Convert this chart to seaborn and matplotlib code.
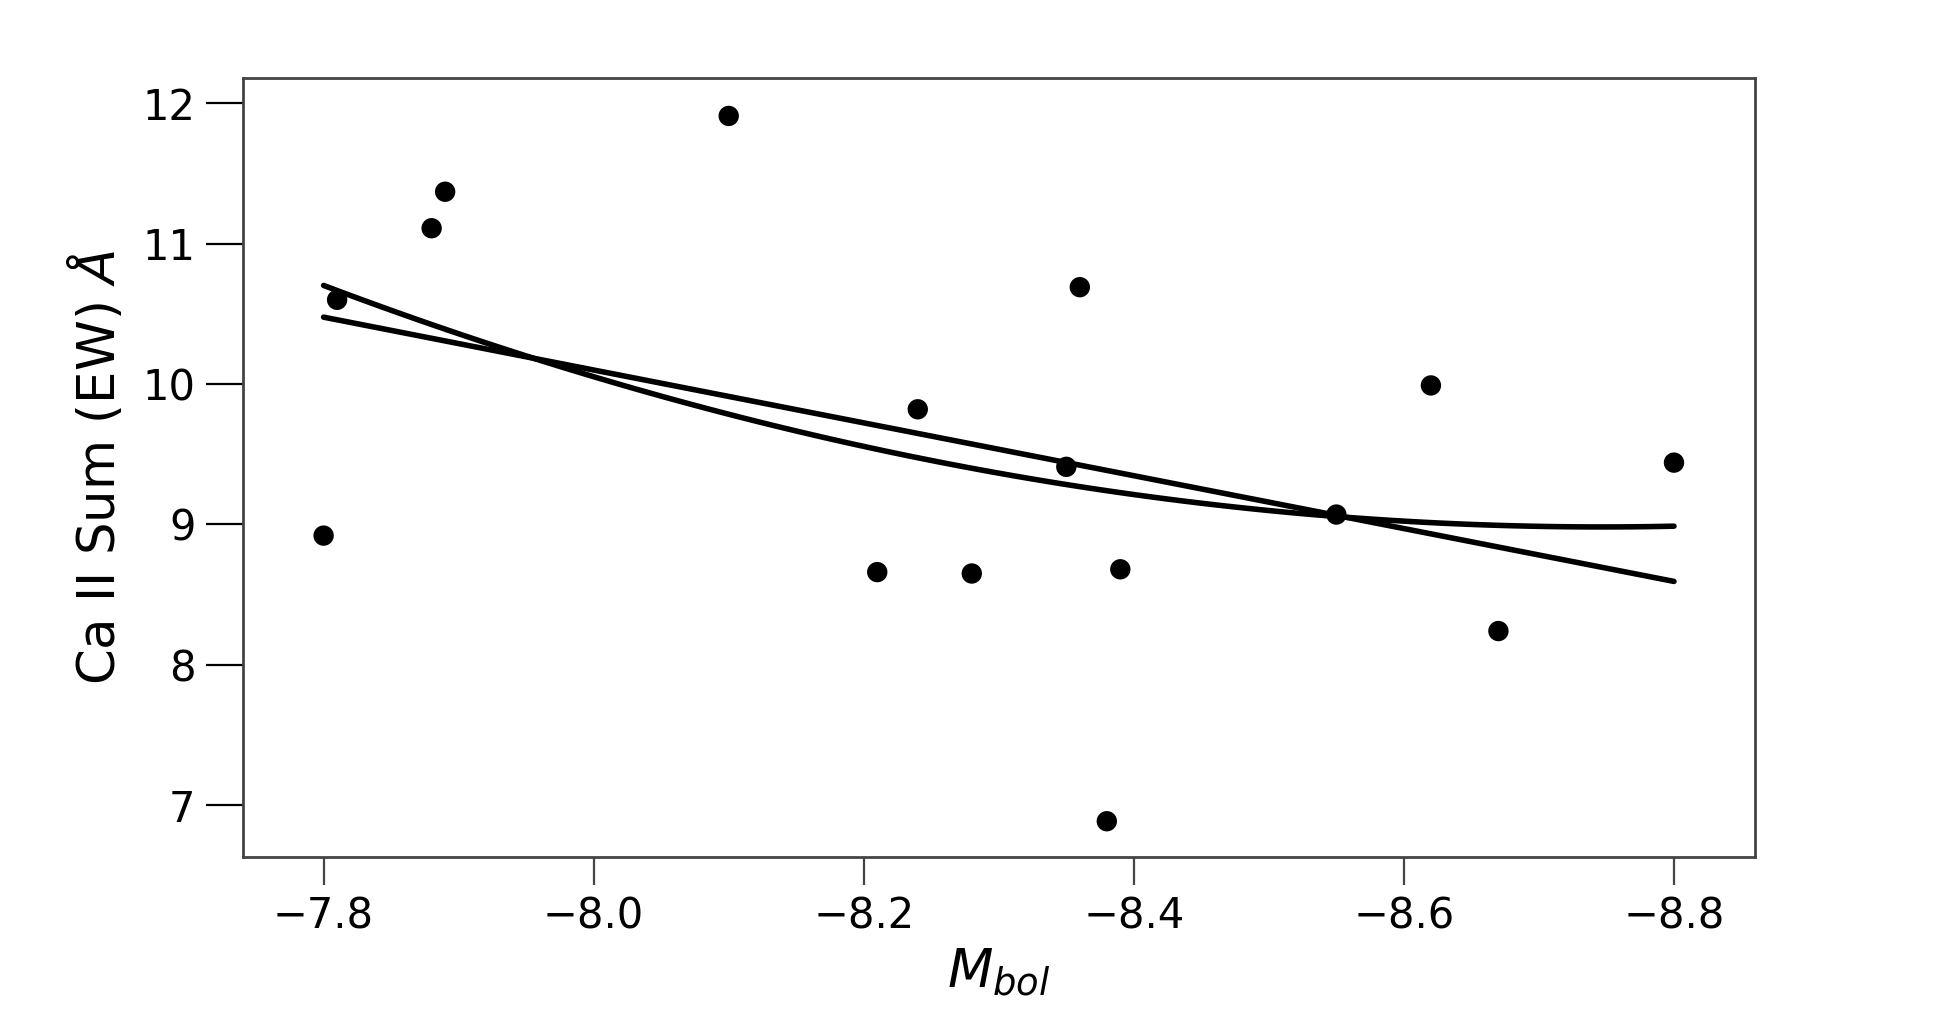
import seaborn as sns
import matplotlib.pyplot as plt
import pandas as pd

# values
m_bol = [-7.80, -7.81, -7.88, -7.89, -8.10, -8.21, -8.24, -8.28,
         -8.35, -8.36, -8.38, -8.39, -8.55, -8.62, -8.67, -8.80]
ca_sum = [8.92, 10.60, 11.11, 11.37, 11.91, 8.66, 9.82, 8.65,
          9.41, 10.69, 6.885, 8.68, 9.07, 9.99, 8.24, 9.44]

x_ticks = [-7.8, -8.0, -8.2, -8.4, -8.6, -8.8]
y_ticks = [7, 8, 9, 10, 11, 12]

df = pd.DataFrame({"mbol": m_bol, "ca": ca_sum})

sns.set_theme(style="ticks")
plt.rcParams['font.family'] = ['DejaVu Sans']
plt.rcParams['text.color'] = 'black'
plt.rcParams['axes.labelcolor'] = 'black'
plt.rcParams['xtick.labelcolor'] = 'black'
plt.rcParams['ytick.labelcolor'] = 'black'

fig = plt.figure(figsize=(19.5, 10.11), dpi=100)
ax = fig.add_axes([0.1244, 0.1523, 0.7756, 0.7705])

sns.scatterplot(x="mbol", y="ca", data=df, ax=ax, color="black", s=215,
                edgecolor="none", zorder=3)
# linear and quadratic fits
sns.regplot(x="mbol", y="ca", data=df, ax=ax, order=1, ci=None, scatter=False,
            line_kws=dict(color="black", lw=4.0))
sns.regplot(x="mbol", y="ca", data=df, ax=ax, order=2, ci=None, scatter=False,
            line_kws=dict(color="black", lw=4.0))

ax.set_xlim(-7.74, -8.86)
ax.set_ylim(6.63, 12.18)
ax.set_xticks(x_ticks)
ax.set_yticks(y_ticks)
ax.set_xticklabels(["\u2212{:.1f}".format(abs(v)) for v in x_ticks])

for side in ["left", "right", "top", "bottom"]:
    ax.spines[side].set_color("#444444")
    ax.spines[side].set_linewidth(2.0)

ax.tick_params(axis="y", length=27, width=1.6, color="black", pad=7,
               labelsize=30)
ax.tick_params(axis="x", length=20, width=1.6, color="#444444", pad=8,
               labelsize=30)

ax.set_xlabel("$M_{bol}$", fontsize=38, labelpad=6)
ax.set_ylabel("Ca II Sum (EW) $\u00c5$", fontsize=37, labelpad=12)

fig.savefig("out.png", dpi=100)
